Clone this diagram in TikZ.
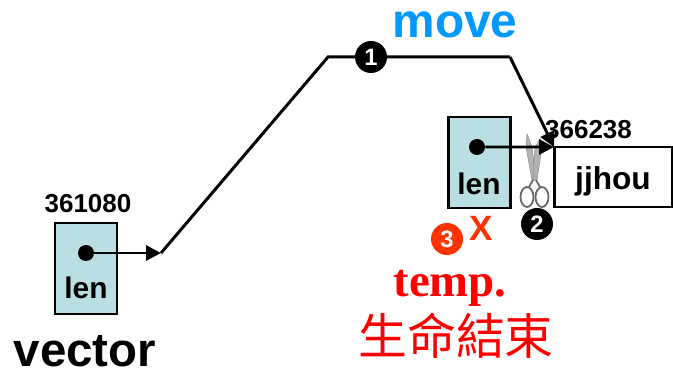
\documentclass[tikz,border=0pt]{standalone}
\usepackage{fontspec}
\setmainfont{Liberation Sans}
\newfontfamily\temprm{Liberation Serif}
\newfontfamily\cjk{Noto Sans CJK TC}
\usetikzlibrary{arrows.meta}
\definecolor{boxcyan}{HTML}{B9DFE3}
\definecolor{moveblue}{HTML}{0099FF}
\definecolor{stepred}{HTML}{FF3300}
\tikzset{
  membox/.style={draw, line width=1.7pt, fill=boxcyan, minimum width=1.24cm, minimum height=1.82cm, inner sep=0pt},
  dot/.style={circle, fill=black, minimum size=.32cm, inner sep=0pt},
  badge/.style={circle, fill=#1, text=white, minimum size=.64cm, inner sep=0pt, font=\fontsize{13.5}{13.5}\selectfont\bfseries},
  lbl/.style={anchor=base, inner sep=0pt, font=\fontsize{#1}{#1}\selectfont\bfseries},
  ptr/.style={line width=1.7pt, -{Triangle[length=.3cm, width=.3cm]}},
  blade/.style={fill=gray!60, draw=gray!90, line width=.3pt},
  grip/.style={draw=gray!80!black, line width=1pt}
}
\begin{document}
\begin{tikzpicture}
	\useasboundingbox (0,0) rectangle (13.46,7.54);

	% Draw the boxes
	\node[membox] (vecbox) at (1.72,2.17) {};
	\node[membox] (tempbox) at (9.58,4.29) {};
	\node[draw, line width=1.7pt, outer sep=0pt, minimum width=2.36cm, minimum height=1.2cm, inner sep=0pt] (strbox) at (12.26,4.00) {};

	% Box labels
	\node[lbl=17] (veclen) at (1.72,1.56) {len};
	\node[lbl=17] (templen) at (9.58,3.64) {len};
	\node[lbl=18] (strtext) at (12.26,3.74) {jjhou};
	\node[lbl=14.8] (vecaddr) at (1.76,3.28) {361080};
	\node[lbl=14.8] (straddr) at (11.77,4.76) {366238};
	\node[lbl=27] (vecname) at (1.70,0.20) {vector};

	% Draw the scissors
	\fill[blade] (10.54,4.86) -- (10.64,4.60) -- (10.72,3.94) -- (10.64,3.94) -- (10.52,4.60) -- cycle;
	\fill[blade] (10.80,4.76) -- (10.84,4.60) -- (10.74,3.94) -- (10.66,3.94) -- (10.70,4.60) -- cycle;
	\draw[grip] (10.54,3.60) ellipse (.13 and .2);
	\draw[grip] (10.84,3.60) ellipse (.13 and .2);
	\draw[grip] (10.66,3.94) -- (10.58,3.80);
	\draw[grip] (10.72,3.94) -- (10.80,3.80);

	% Dots and the pointers
	\node[dot] (vecdot) at (1.72,2.48) {};
	\node[dot] (tempdot) at (9.54,4.60) {};
	\coordinate (bendA) at (3.22,2.48);
	\coordinate (bendB) at (6.56,6.40);
	\coordinate (bendC) at (10.20,6.40);
	\draw[ptr] (vecdot) -- (bendA);
	\draw[line width=1.7pt] (bendA) -- (bendB) -- (bendC);
	\draw[ptr] (bendC) -- (strbox.north west);
	\draw[ptr] (tempdot) -- (strbox.north west);

	% Numbered steps
	\node[badge=black] (stepA) at (7.42,6.40) {1};
	\node[badge=black] (stepB) at (10.74,3.06) {2};
	\node[badge=stepred] (stepC) at (8.94,2.76) {3};

	% Red texts
	\node[lbl=27.2, text=moveblue] (movetext) at (9.10,6.78) {move};
	\node[lbl=20, text=stepred] (crosstext) at (9.62,2.72) {X};
	\node[lbl=26.6, text=red] (temptext) at (9.00,1.60) {\temprm temp.};
	\node[text=red, inner sep=0pt, font=\fontsize{27.8}{27.8}\selectfont] (endtext) at (9.12,0.82) {\cjk 生命結束};
\end{tikzpicture}
\end{document}
